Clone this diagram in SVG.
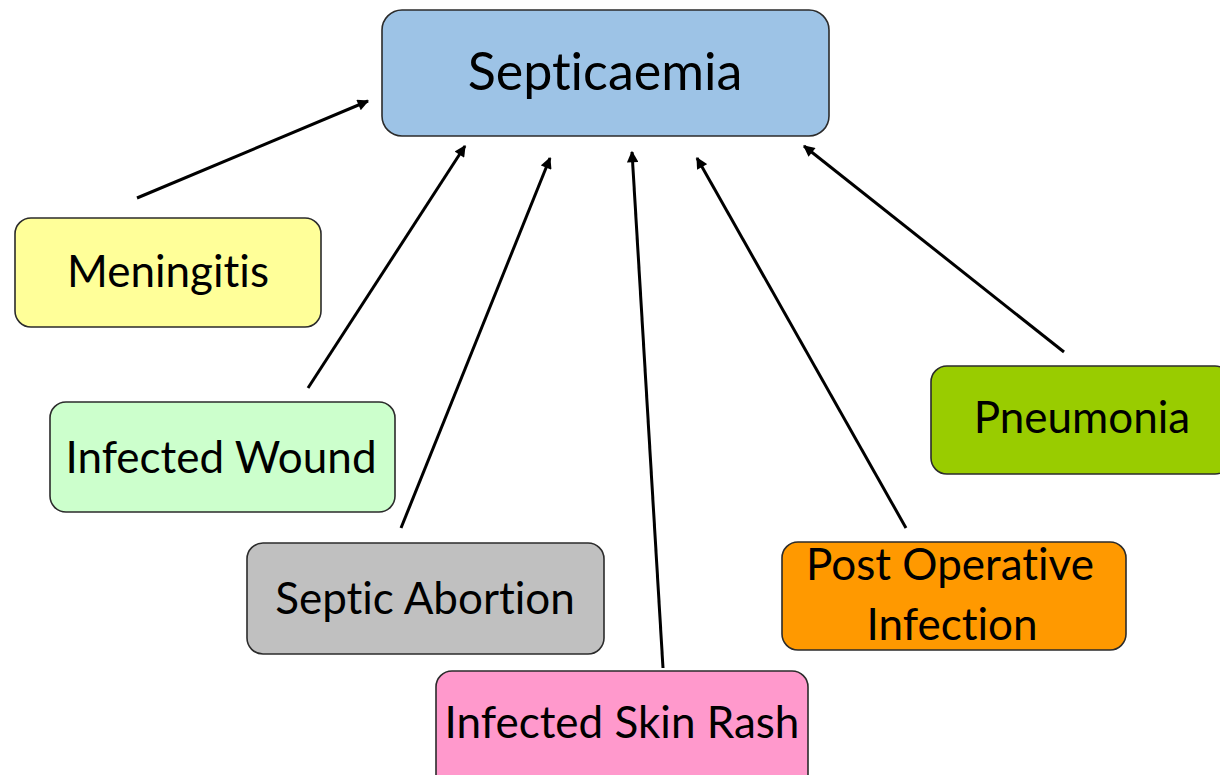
<svg xmlns="http://www.w3.org/2000/svg" width="1220" height="775" viewBox="0 0 1220 775">
<style>
.box{stroke:#2b2b2b;stroke-width:1.6}
.lbl{font-family:Lato,"Open Sans","Liberation Sans",sans-serif;font-size:44px;fill:#000;text-anchor:middle;font-variant-ligatures:none;font-feature-settings:"liga" 0,"clig" 0}
.conn{stroke:#000;stroke-width:3;fill:none;marker-end:url(#ah)}
</style>
<defs>
<marker id="ah" viewBox="0 0 10 10" refX="9" refY="5" markerWidth="4.2" markerHeight="3.8" markerUnits="strokeWidth" orient="auto">
<path d="M0,0 L10,5 L0,10 z" fill="#000"/>
</marker>
</defs>
<rect width="1220" height="775" fill="#fff"/>
<g id="connectors">
<line class="conn" x1="137" y1="198" x2="368" y2="101"/>
<line class="conn" x1="308" y1="388" x2="465" y2="146"/>
<line class="conn" x1="401" y1="528" x2="550" y2="158"/>
<line class="conn" x1="663" y1="668" x2="632" y2="152"/>
<line class="conn" x1="906" y1="528" x2="697" y2="158"/>
<line class="conn" x1="1064" y1="352" x2="804" y2="146"/>
</g>
<g id="septicaemia">
<rect class="box" x="382" y="10" width="447" height="126" rx="20" fill="#9DC3E6"/>
<text class="lbl" x="605" y="90" style="font-size:52px">Septicaemia</text>
</g>
<g id="meningitis">
<rect class="box" x="15" y="218" width="306" height="109" rx="16" fill="#FFFF99"/>
<text class="lbl" x="168" y="287">Meningitis</text>
</g>
<g id="infected-wound">
<rect class="box" x="50" y="402" width="345" height="110" rx="16" fill="#CCFFCC"/>
<text class="lbl" x="221" y="473">Infected Wound</text>
</g>
<g id="septic-abortion">
<rect class="box" x="247" y="543" width="357" height="111" rx="16" fill="#C0C0C0"/>
<text class="lbl" x="425" y="614">Septic Abortion</text>
</g>
<g id="infected-skin-rash">
<rect class="box" x="436" y="671" width="372" height="120" rx="16" fill="#FF99CC"/>
<text class="lbl" x="622" y="738">Infected Skin Rash</text>
</g>
<g id="post-operative-infection">
<rect class="box" x="782" y="542" width="344" height="108" rx="16" fill="#FF9900"/>
<text class="lbl" x="950" y="580">Post Operative</text>
<text class="lbl" x="952" y="640">Infection</text>
</g>
<g id="pneumonia">
<rect class="box" x="931" y="366" width="300" height="108" rx="16" fill="#99CC00"/>
<text class="lbl" x="1082" y="433">Pneumonia</text>
</g>
</svg>
